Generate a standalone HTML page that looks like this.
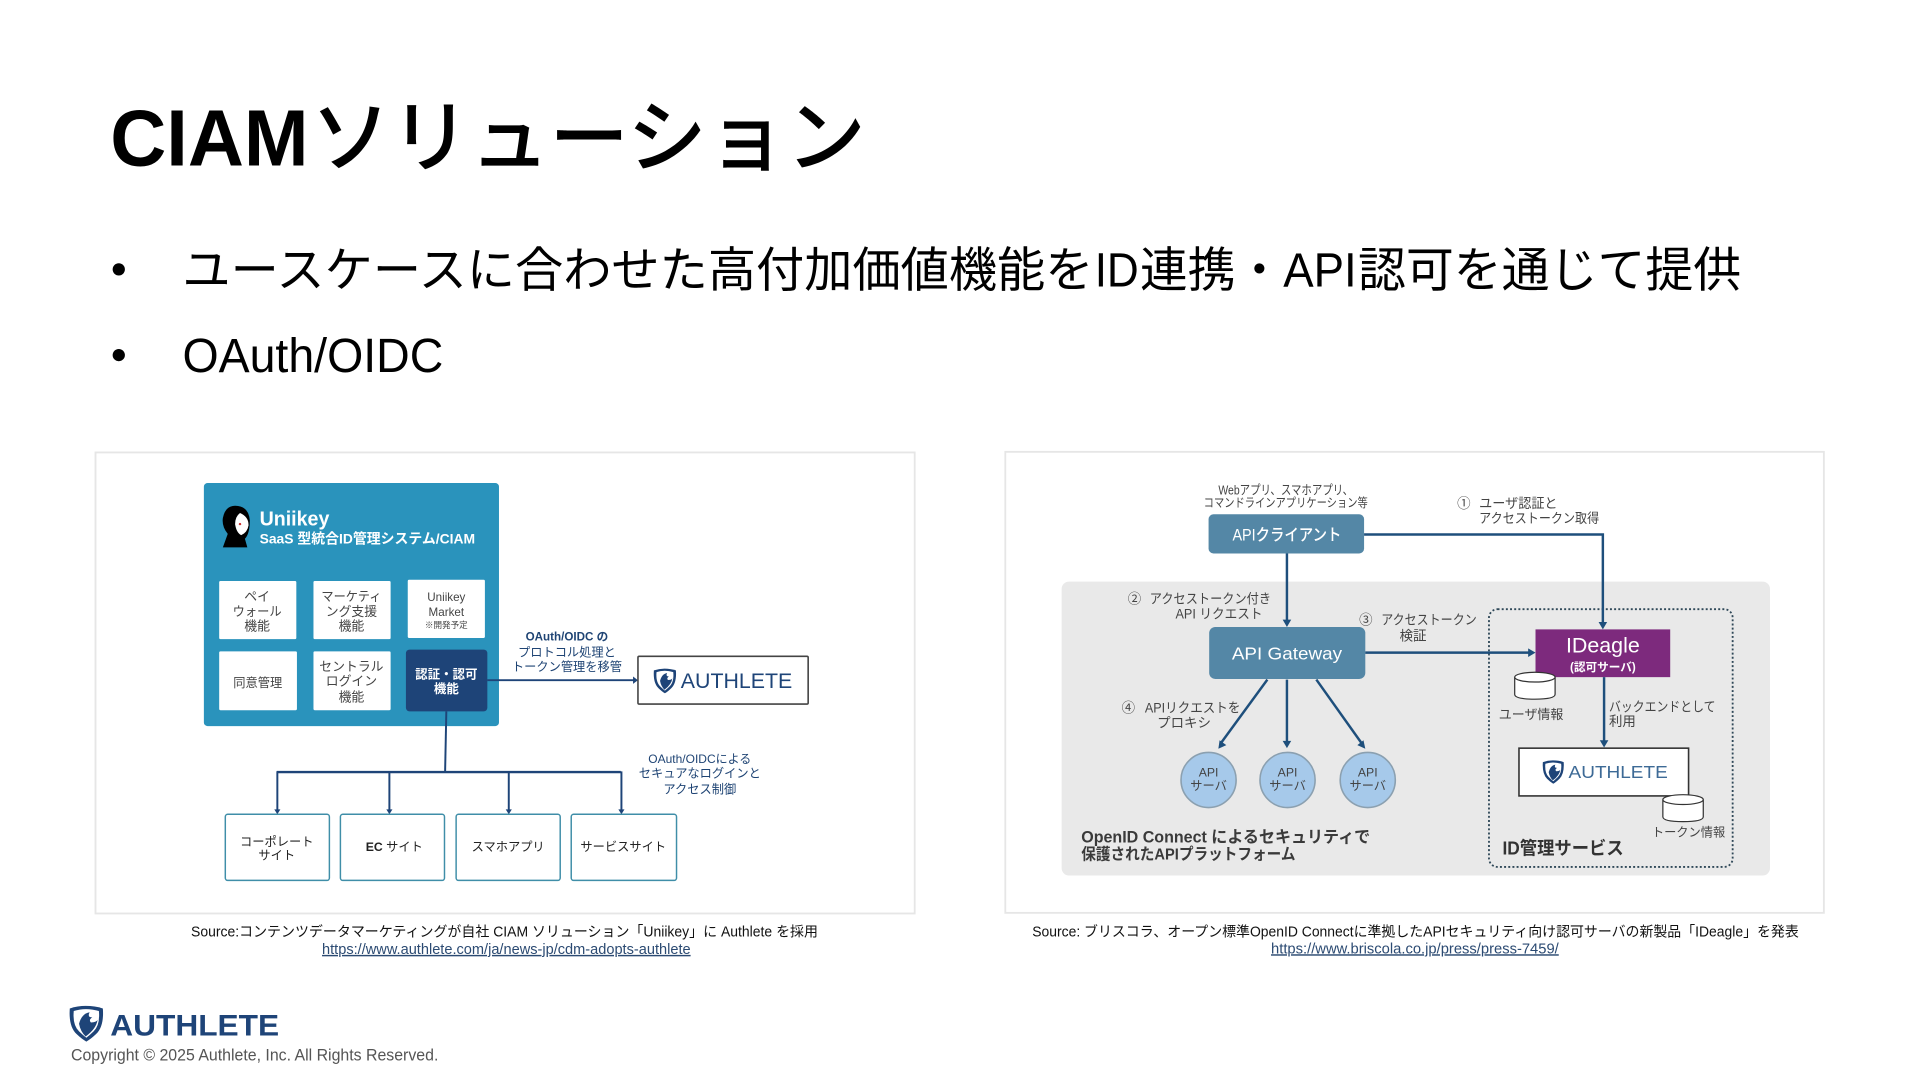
<!DOCTYPE html>
<html lang="ja"><head><meta charset="utf-8"><title>CIAMソリューション</title>
<style>
html,body{margin:0;padding:0;background:#fff;width:1920px;height:1080px;overflow:hidden}
svg{display:block}
text{font-family:"Liberation Sans","Noto Sans CJK JP",sans-serif;fill:#222}
.c{text-anchor:middle}
.w{fill:#fff}
.n{fill:#1f4474}
.g{fill:#444}
.cell{fill:#fff}
.ln{stroke:#1e4478;fill:none;stroke-width:1.6}
.lr{stroke:#1e4f7c;fill:none;stroke-width:2}
.logo{fill:#1e4478}
</style></head><body>
<svg width="1920" height="1080" viewBox="0 0 1568 882" xmlns="http://www.w3.org/2000/svg">
<defs>
<g id="sh"><path d="M0 2 Q6 0 12 0 Q19 0 25 2 Q26 16 20 22 Q16 26 12.500 28 Q9 26 5 22 Q-1 16 0 2Z" fill="#1e4478"/><path d="M3 4 Q12 1 22 4 Q23 15 18 20 Q15 23 12.500 25 Q10 23 7 20 Q2 15 3 4Z" fill="#fff"/><path d="M7 14 Q9 6 15 5 Q13 9 17 9 Q14 11 16 13 Q20 13 21 11 Q20 18 12 24 Q8 20 7 14Z" fill="#1e4478"/></g>
<g id="db"><path d="M0 4 V18 Q0 22 16.500 22 Q33 22 33 18 V4" fill="#fff" stroke="#333" stroke-width="1"/><ellipse cx="16.500" cy="4" rx="16.500" ry="4" fill="#fff" stroke="#333" stroke-width="1"/></g>
</defs>

<!-- heading -->
<text x="90" y="135" font-size="65" font-weight="bold" style="fill:#000" textLength="162" lengthAdjust="spacingAndGlyphs">CIAM</text>
<text x="254" y="135" font-size="65" font-weight="500" style="fill:#000;font-family:'Noto Sans CJK JP',sans-serif" textLength="453" lengthAdjust="spacingAndGlyphs">ソリューション</text>
<circle cx="97" cy="220" r="5" fill="#000"/>
<circle cx="97" cy="290" r="5" fill="#000"/>
<g font-size="39.200" style="fill:#000">
<text x="149" y="234" style="fill:#000" textLength="744" lengthAdjust="spacingAndGlyphs">ユースケースに合わせた高付加価値機能を</text>
<text x="894" y="234" style="fill:#000" textLength="36" lengthAdjust="spacingAndGlyphs">ID</text>
<text x="931" y="234" style="fill:#000" textLength="117" lengthAdjust="spacingAndGlyphs">連携・</text>
<text x="1048" y="234" style="fill:#000" textLength="60" lengthAdjust="spacingAndGlyphs">API</text>
<text x="1109" y="234" style="fill:#000" textLength="313" lengthAdjust="spacingAndGlyphs">認可を通じて提供</text>
<text x="149" y="304" style="fill:#000" textLength="213" lengthAdjust="spacingAndGlyphs">OAuth/OIDC</text>
</g>

<!-- left panel -->
<rect x="78" y="369.500" width="669" height="376.500" fill="#fff" stroke="#e6e6e6" stroke-width="1.500"/>
<rect x="166.500" y="394.500" width="241" height="198.500" rx="3" fill="#2a93bc"/>
<!-- person icon -->
<path d="M192 413 Q203 413 204 425 Q204 436 200 440 L202 447 L182 447 L186 436 Q181 430 182 423 Q184 413 192 413Z" fill="#000"/>
<path d="M196 419 Q203 422 203 429 Q202 435 197 437 Q193 435 192 428 Q192 422 196 419Z" fill="#fff"/>
<circle cx="196" cy="428" r="1" fill="#c33"/>
<text x="212" y="429" font-size="16.500" font-weight="bold" style="fill:#fff" textLength="57" lengthAdjust="spacingAndGlyphs">Uniikey</text>
<text x="212" y="444" font-size="11.500" font-weight="bold" style="fill:#fff" textLength="176" lengthAdjust="spacingAndGlyphs">SaaS 型統合ID管理システム/CIAM</text>

<rect class="cell" x="179" y="474.500" width="63" height="47.500" rx="1"/>
<rect class="cell" x="256" y="474.500" width="63" height="47.500" rx="1"/>
<rect class="cell" x="333" y="473.500" width="63" height="47.500" rx="1"/>
<rect class="cell" x="179" y="532" width="63.500" height="48" rx="1"/>
<rect class="cell" x="256" y="532" width="63" height="48" rx="1"/>
<rect x="331.500" y="530.500" width="66.500" height="50.500" rx="3" fill="#1e4478"/>

<g font-size="10.500">
<text class="c g" x="210" y="491">ペイ</text>
<text class="c g" x="210" y="503" textLength="40" lengthAdjust="spacingAndGlyphs">ウォール</text>
<text class="c g" x="210" y="515">機能</text>
<text class="c g" x="287" y="491" textLength="49" lengthAdjust="spacingAndGlyphs">マーケティ</text>
<text class="c g" x="287" y="503">ング支援</text>
<text class="c g" x="287" y="515">機能</text>
<text class="c g" x="364.500" y="491" font-size="9.500">Uniikey</text>
<text class="c g" x="364.500" y="503" font-size="9.500">Market</text>
<text class="c g" x="364.500" y="513" font-size="7">※開発予定</text>
<text class="c g" x="210.500" y="561" font-size="10">同意管理</text>
<text class="c g" x="287" y="548">セントラル</text>
<text class="c g" x="287" y="560">ログイン</text>
<text class="c g" x="287" y="573">機能</text>
<text class="c" x="364.500" y="554" font-size="10.200" font-weight="bold" style="fill:#fff">認証・認可</text>
<text class="c" x="364.500" y="566" font-size="10.200" font-weight="bold" style="fill:#fff">機能</text>
</g>

<path class="ln" d="M398 555.500H519"/>
<path d="M521 555.500l-4 -3v6z" fill="#1e4478"/>
<rect x="521" y="536" width="139" height="39" rx="1" fill="#fff" stroke="#444" stroke-width="1.300"/>
<use href="#sh" transform="translate(534 546) scale(.72)"/>
<text x="556" y="562" class="logo" font-size="17" style="fill:#1e4478" textLength="91" lengthAdjust="spacingAndGlyphs">AUTHLETE</text>

<text class="c n" x="463" y="523" font-size="9.500" font-weight="bold">OAuth/OIDC の</text>
<text class="c n" x="463" y="536" font-size="10">プロトコル処理と</text>
<text class="c n" x="463" y="548" font-size="10">トークン管理を移管</text>

<path class="ln" d="M364.500 581L363.500 630.500"/>
<path d="M226 630.500H507" stroke="#1e4478" stroke-width="2" fill="none"/>
<path class="ln" d="M226.500 630V662M318 630V662M415.500 630V662M507.500 630V662" stroke-width="1.200"/>
<path d="M226.500 665l-2.500 -4h5zM318 665l-2.500 -4h5zM415.500 665l-2.500 -4h5zM507.500 665l-2.500 -4h5z" fill="#1e4478"/>

<text class="c n" x="571.500" y="623" font-size="9.800">OAuth/OIDCによる</text>
<text class="c n" x="571.500" y="635" font-size="10">セキュアなログインと</text>
<text class="c n" x="571.500" y="648" font-size="10">アクセス制御</text>

<g fill="#fff" stroke="#3f8ea8" stroke-width="1.200">
<rect x="184" y="665" width="85" height="54" rx="2"/>
<rect x="278" y="665" width="85" height="54" rx="2"/>
<rect x="372.500" y="665" width="85" height="54" rx="2"/>
<rect x="466.500" y="665" width="86" height="54" rx="2"/>
</g>
<g font-size="10">
<text class="c" x="226" y="691">コーポレート</text>
<text class="c" x="226" y="702">サイト</text>
<text class="c" x="322" y="695"><tspan font-weight="bold">EC</tspan> サイト</text>
<text class="c" x="415" y="695">スマホアプリ</text>
<text class="c" x="509" y="695">サービスサイト</text>
</g>

<text class="c" x="412" y="765" font-size="11.800" style="fill:#111" textLength="512" lengthAdjust="spacingAndGlyphs">Source:コンテンツデータマーケティングが自社 CIAM ソリューション「Uniikey」に Authlete を採用</text>
<text class="c" x="413.500" y="779" font-size="11.800" text-decoration="underline" style="fill:#2b4a72" textLength="301" lengthAdjust="spacingAndGlyphs">https://www.authlete.com/ja/news-jp/cdm-adopts-authlete</text>

<!-- right panel -->
<rect x="821" y="369" width="668.500" height="376.500" fill="#fff" stroke="#e6e6e6" stroke-width="1.500"/>
<rect x="867" y="475" width="578.500" height="240" rx="6" fill="#e9e9e9"/>
<rect x="1216" y="497.500" width="199" height="210.500" rx="7" fill="none" stroke="#2f4858" stroke-width="1.500" stroke-dasharray="1.600 1.800"/>

<text class="c g" x="1050" y="404" font-size="10.500" textLength="110" lengthAdjust="spacingAndGlyphs">Webアプリ、スマホアプリ、</text>
<text class="c g" x="1050" y="414" font-size="10" textLength="134" lengthAdjust="spacingAndGlyphs">コマンドラインアプリケーション等</text>

<rect x="987" y="420" width="127" height="32" rx="4" fill="#5487a6"/>
<text class="c" x="1051" y="441.500" font-size="13.500" font-weight="500" style="fill:#fff" textLength="89" lengthAdjust="spacingAndGlyphs">APIクライアント</text>
<rect x="987.500" y="512" width="127.500" height="42.500" rx="5" fill="#5487a6"/>
<text class="c" x="1051" y="538.500" font-size="14" font-weight="500" style="fill:#fff" textLength="90" lengthAdjust="spacingAndGlyphs">API Gateway</text>

<rect x="1254" y="514" width="110" height="39" fill="#7d2a7d"/>
<text class="c" x="1309" y="533" font-size="17.500" style="fill:#fff">IDeagle</text>
<text class="c" x="1309" y="548" font-size="9.500" font-weight="bold" style="fill:#fff">(認可サーバ)</text>

<path class="lr" d="M1114 436.500H1309V510"/>
<path d="M1309 514l-3.500 -6h7z" fill="#1e4f7c"/>
<path class="lr" d="M1051 452V508"/>
<path d="M1051 512l-3.500 -6h7z" fill="#1e4f7c"/>
<path class="lr" d="M1115 533H1250"/>
<path d="M1254 533l-6 -3.500v7z" fill="#1e4f7c"/>
<path class="lr" d="M1310 553V606"/>
<path d="M1310 610.500l-3.500 -6h7z" fill="#1e4f7c"/>
<path class="lr" d="M1035 555L997 607"/>
<path d="M995 611.500l1 -7 5.500 4z" fill="#1e4f7c"/>
<path class="lr" d="M1051 555V606"/>
<path d="M1051 611l-3.500 -6h7z" fill="#1e4f7c"/>
<path class="lr" d="M1075 555L1112 607"/>
<path d="M1115 611.500l-6.500 -3 5 -4z" fill="#1e4f7c"/>

<g fill="#a6c9ea" stroke="#8ba0b0" stroke-width="1.300">
<circle cx="987" cy="637" r="22.500"/><circle cx="1051.500" cy="637" r="22.500"/><circle cx="1117" cy="637" r="22.500"/>
</g>
<g font-size="10">
<text class="c g" x="987" y="634">API</text><text class="c g" x="987" y="645">サーバ</text>
<text class="c g" x="1051.500" y="634">API</text><text class="c g" x="1051.500" y="645">サーバ</text>
<text class="c g" x="1117" y="634">API</text><text class="c g" x="1117" y="645">サーバ</text>
</g>

<g font-size="11">
<text class="g" x="1190" y="415">①</text>
<text class="g" x="1208" y="415" textLength="64" lengthAdjust="spacingAndGlyphs">ユーザ認証と</text>
<text class="g" x="1208" y="427" textLength="98" lengthAdjust="spacingAndGlyphs">アクセストークン取得</text>
<text class="g" x="921" y="493">②</text>
<text class="g" x="939" y="493" textLength="99" lengthAdjust="spacingAndGlyphs">アクセストークン付き</text>
<text class="g" x="960" y="505" textLength="71" lengthAdjust="spacingAndGlyphs">API リクエスト</text>
<text class="g" x="1110" y="510">③</text>
<text class="g" x="1128" y="510" textLength="78" lengthAdjust="spacingAndGlyphs">アクセストークン</text>
<text class="g" x="1143" y="523">検証</text>
<text class="g" x="916" y="582">④</text>
<text class="g" x="935" y="582" textLength="78" lengthAdjust="spacingAndGlyphs">APIリクエストを</text>
<text class="g" x="945" y="594">プロキシ</text>
<text class="g" x="1314" y="581" textLength="87" lengthAdjust="spacingAndGlyphs">バックエンドとして</text>
<text class="g" x="1314" y="593">利用</text>
<text class="g" x="1224" y="587" font-size="10.600">ユーザ情報</text>
<text class="g" x="1349" y="683" font-size="10">トークン情報</text>
</g>

<use href="#db" x="1237" y="549"/>
<rect x="1240.500" y="611" width="138.500" height="39" fill="#fff" stroke="#333" stroke-width="1.300"/>
<use href="#sh" transform="translate(1260 621) scale(.68)"/>
<text x="1281" y="635.500" font-size="14.500" style="fill:#3d6a96" textLength="81" lengthAdjust="spacingAndGlyphs">AUTHLETE</text>
<use href="#db" x="1358" y="649"/>

<text x="883" y="688" font-size="13.500" font-weight="bold" style="fill:#3a3a3a" textLength="236" lengthAdjust="spacingAndGlyphs">OpenID Connect によるセキュリティで</text>
<text x="883" y="702" font-size="13" font-weight="bold" style="fill:#3a3a3a" textLength="175" lengthAdjust="spacingAndGlyphs">保護されたAPIプラットフォーム</text>
<text x="1227" y="698" font-size="15" font-weight="bold" style="fill:#333" textLength="99" lengthAdjust="spacingAndGlyphs">ID管理サービス</text>

<text class="c" x="1156" y="765" font-size="11.800" style="fill:#111" textLength="626" lengthAdjust="spacingAndGlyphs">Source: ブリスコラ、オープン標準OpenID Connectに準拠したAPIセキュリティ向け認可サーバの新製品「IDeagle」を発表</text>
<text class="c" x="1155.500" y="778.500" font-size="11.800" text-decoration="underline" style="fill:#2b4a72" textLength="235" lengthAdjust="spacingAndGlyphs">https://www.briscola.co.jp/press/press-7459/</text>

<!-- footer -->
<use href="#sh" transform="translate(57 821.500) scale(1.080 1.040)"/>
<text x="90" y="845.500" font-size="24.500" style="fill:#1e4478;font-weight:bold" textLength="138" lengthAdjust="spacingAndGlyphs">AUTHLETE</text>
<text x="58" y="866" font-size="13.800" style="fill:#555" textLength="300" lengthAdjust="spacingAndGlyphs">Copyright © 2025 Authlete, Inc. All Rights Reserved.</text>
</svg>
</body></html>
